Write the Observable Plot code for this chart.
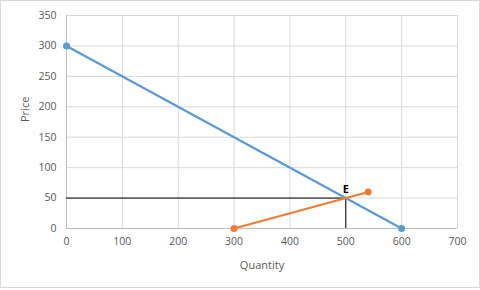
<!DOCTYPE html>
<html>
<head>
<meta charset="utf-8">
<script src="https://cdn.jsdelivr.net/npm/d3@7"></script>
<script src="https://cdn.jsdelivr.net/npm/@observablehq/plot@0.6"></script>
<style>
  body { margin: 0; background: #fff; }
  #wrap { position: relative; width: 480px; height: 290px; }
  #border { position: absolute; left: 0; top: 0; width: 480px; height: 288px; box-sizing: border-box; border: 1px solid #d9d9d9; pointer-events: none; }
</style>
</head>
<body>
<div id="wrap"><div id="border"></div></div>
<script>
const xTicks = [0, 100, 200, 300, 400, 500, 600, 700];
const yTicks = [0, 50, 100, 150, 200, 250, 300, 350];
const demandQ = [0, 600];
const demandP = [300, 0];
const supplyQ = [300, 540];
const supplyP = [0, 60];
const eqQ = 500;
const eqP = 50;
const eqLabel = "E";
const xTitle = "Quantity";
const yTitle = "Price";

const demand = demandQ.map((q, i) => ({q, p: demandP[i]}));
const supply = supplyQ.map((q, i) => ({q, p: supplyP[i]}));

const chart = Plot.plot({
  width: 480,
  height: 290,
  marginLeft: 66,
  marginRight: 23,
  marginTop: 15,
  marginBottom: 62,
  style: {fontFamily: "'Open Sans', 'Liberation Sans', sans-serif", fontSize: "10.5px", color: "#595959", background: "transparent"},
  x: {domain: [0, 700], ticks: xTicks, label: null},
  y: {domain: [0, 350], ticks: yTicks, label: null},
  marks: [
    Plot.gridX(xTicks, {stroke: "#d9d9d9", strokeOpacity: 1}),
    Plot.gridY(yTicks, {stroke: "#d9d9d9", strokeOpacity: 1}),
    Plot.ruleX([0], {stroke: "#bfbfbf"}),
    Plot.ruleY([0], {stroke: "#bfbfbf"}),
    Plot.axisX(xTicks, {tickSize: 0, tickPadding: 9, label: null, fill: "#595959"}),
    Plot.axisY(yTicks, {tickSize: 0, tickPadding: 10, label: null, fill: "#595959"}),
    Plot.text([xTitle], {frameAnchor: "bottom", dy: 37, lineAnchor: "middle", fill: "#595959", fontSize: 11}),
    Plot.text([yTitle], {frameAnchor: "left", dx: -41, rotate: -90, lineAnchor: "middle", fill: "#595959", fontSize: 11}),
    Plot.ruleY([eqP], {x1: 0, x2: eqQ, stroke: "#000", strokeWidth: 1}),
    Plot.ruleX([eqQ], {y1: 0, y2: eqP, stroke: "#000", strokeWidth: 1}),
    Plot.line(demand, {x: "q", y: "p", stroke: "#5B9BD5", strokeWidth: 2.25}),
    Plot.line(supply, {x: "q", y: "p", stroke: "#ED7D31", strokeWidth: 2.25}),
    Plot.dot(demand, {x: "q", y: "p", fill: "#5B9BD5", r: 3.5}),
    Plot.dot(supply, {x: "q", y: "p", fill: "#ED7D31", r: 3.5}),
    Plot.text([{q: eqQ, p: eqP}], {x: "q", y: "p", text: () => eqLabel, dy: -9, fill: "#000", fontWeight: "bold", fontSize: 11})
  ]
});
document.getElementById("wrap").prepend(chart);
</script>
</body>
</html>
